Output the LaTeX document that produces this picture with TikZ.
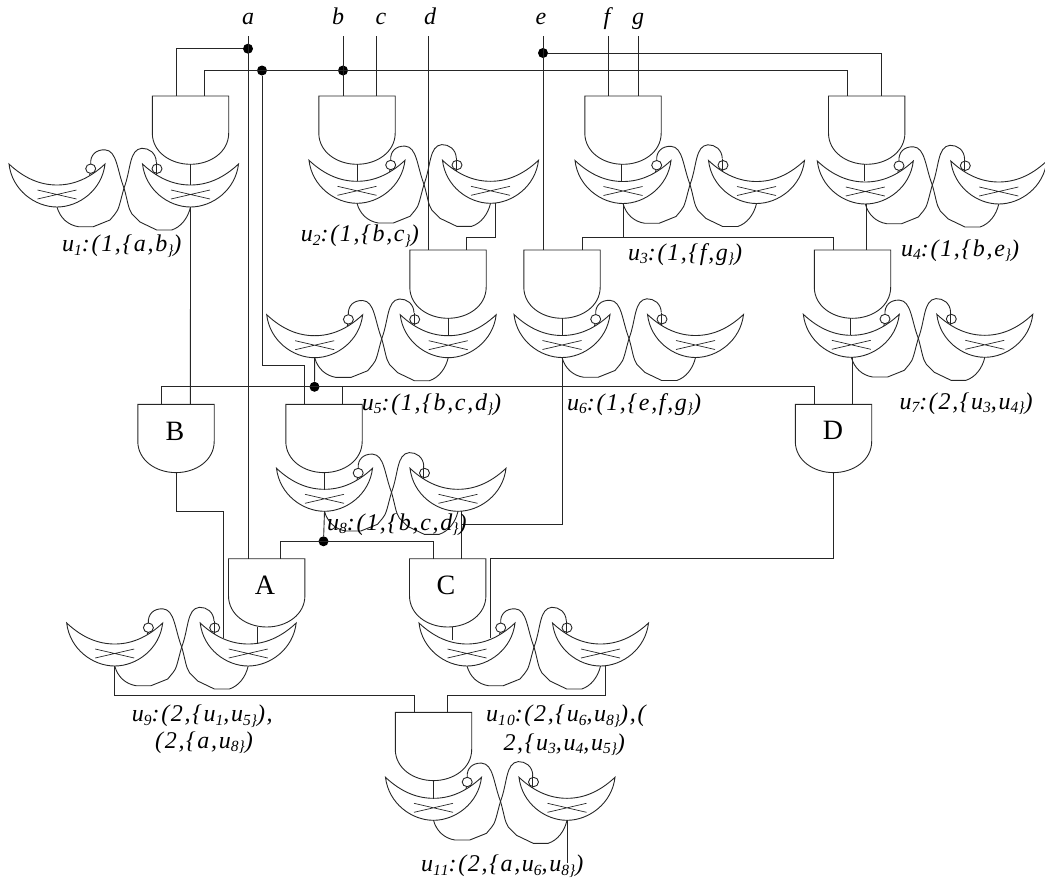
\documentclass[tikz,border=0pt]{standalone}
\usepackage{fontspec}
\setmainfont{Liberation Serif}
\newfontfamily\lblfont[LetterSpace=7]{Liberation Serif}
\usetikzlibrary{calc}
\newcommand{\subt}[1]{\raisebox{-3.5pt}{\fontsize{15.5}{15.5}\selectfont #1}}
\tikzset{
  wire/.style={line width=0.9pt,line join=miter,draw=black!85},
  dotnode/.style={circle,fill=black,inner sep=0pt,minimum size=10pt},
  ulabel/.style={font=\lblfont\fontsize{24}{26}\selectfont\itshape,anchor=base west,inner sep=0pt},
  inlabel/.style={font=\fontsize{24}{26}\selectfont\itshape,anchor=base,inner sep=0pt},
  gatelabel/.style={font=\fontsize{28}{30}\selectfont,inner sep=0pt},
  andgate/.pic={
    \draw[wire] (-38.2,37) -- (-38.2,0) -- (38.2,0) -- (38.2,37)
      .. controls (38.2,56) and (20,68.3) .. (0,68.3)
      .. controls (-20,68.3) and (-38.2,56) .. (-38.2,37) -- cycle;
    \coordinate (-bot) at (0,68.3);
  },
  crescent/.pic={
    \draw[wire,line join=miter] (-48,0) .. controls (-32,15) and (-16,21) .. (0,21)
      .. controls (16,21) and (32,15) .. (48,0)
      .. controls (45,26) and (22,43) .. (0,43)
      .. controls (-22,43) and (-45,26) .. (-48,0) -- cycle;
    \draw[wire,line width=0.7pt] (-19.5,26) -- (19.5,35) (-19.5,35) -- (19.5,26);
  },
  latch/.pic={
    \pic at (0,0) {crescent};
    \pic at (133.5,0) {crescent};
    \draw[wire] (33.7,4.7) circle[x radius=5,y radius=4.7];
    \draw[wire] (100,4.7) circle[x radius=5,y radius=4.7];
    \draw[wire] (33,9.4) -- (32.5,11.5);
    \draw[wire] (99.3,10.5) -- (99.3,-2);
    \draw[wire] (33.7,0) .. controls (33,-9) and (39,-14.5) .. (48,-14.2)
      .. controls (60,-13.5) and (60,6) .. (67,24)
      .. controls (71,38) and (71,44) .. (75,50) -- (83,58) -- (99.7,66) -- (114.7,66)
      .. controls (124,63) and (131,54) .. (133.5,43);
    \draw[wire] (99.3,-2) .. controls (99,-11) and (92,-16) .. (84.7,-15.7)
      .. controls (72,-14.5) and (74,6) .. (67,24)
      .. controls (63,38) and (62,46) .. (58,50) -- (53,56) -- (36.3,62.7) -- (21.3,62.7)
      .. controls (11,61) and (3,54) .. (0,43);
    \coordinate (-tl) at (0,21);
    \coordinate (-tr) at (133.5,21);
    \coordinate (-bl) at (0,43);
    \coordinate (-br) at (133.5,43);
  }
}
\begin{document}
\begin{tikzpicture}[x=1pt,y=-1pt]
\useasboundingbox (0,0) rectangle (1045,879);
% gates
\pic (g1) at (190.5,96) {andgate};
\pic (g2) at (357,96) {andgate};
\pic (g3) at (623,96) {andgate};
\pic (g4) at (866.7,96) {andgate};
\pic (g5) at (448,250) {andgate};
\pic (g6) at (562,250) {andgate};
\pic (g7) at (852.5,250) {andgate};
\pic (g8) at (324,404.3) {andgate};
\pic (gB) at (176,404.3) {andgate};
\pic (gD) at (833.5,404.3) {andgate};
\pic (gA) at (266.7,558.7) {andgate};
\pic (gC) at (447.7,558.7) {andgate};
\pic (g11) at (433.5,712.3) {andgate};
% latches
\pic (l1) at (57,164) {latch};
\pic (l2) at (357,160.3) {latch};
\pic (l3) at (623,160.5) {latch};
\pic (l4) at (865.3,161) {latch};
\pic (l5) at (314.7,314.7) {latch};
\pic (l6) at (562,314.5) {latch};
\pic (l7) at (851.3,314.3) {latch};
\pic (l8) at (324.5,468.3) {latch};
\pic (l9) at (114.7,623) {latch};
\pic (l10) at (467,623) {latch};
\pic (l11) at (433.5,777.3) {latch};
% gate letters
\node[gatelabel] (tB) at (175,431) {B};
\node[gatelabel] (tA) at (265,585) {A};
\node[gatelabel] (tC) at (446,585) {C};
\node[gatelabel] (tD) at (833,430) {D};
% input labels
\node[inlabel] (na) at (248,24) {a};
\node[inlabel] (nb) at (338,24) {b};
\node[inlabel] (nc) at (381,24) {c};
\node[inlabel] (nd) at (430,24) {d};
\node[inlabel] (ne) at (541,24) {e};
\node[inlabel] (nf) at (607,24) {f};
\node[inlabel] (ng) at (638,24) {g};
% terminals
\coordinate (ta) at (248,36);
\coordinate (tb) at (343,36);
\coordinate (tc) at (376,36);
\coordinate (td) at (428.3,36);
\coordinate (te) at (543,36);
\coordinate (tf) at (608,36);
\coordinate (tg) at (638,36);
% junction dots
\node[dotnode] (da) at (248,48.7) {};
\node[dotnode] (db) at (343,70.5) {};
\node[dotnode] (dc) at (262,70.5) {};
\node[dotnode] (de) at (543,53) {};
\node[dotnode] (d5) at (314.5,386.8) {};
\node[dotnode] (d8) at (323.5,541.3) {};
% gate inputs
\coordinate (i1a) at (176,96);
\coordinate (i1b) at (204.5,96);
\coordinate (i2b) at (343,96);
\coordinate (i2c) at (376,96);
\coordinate (i3f) at (608,96);
\coordinate (i3g) at (638,96);
\coordinate (i4b) at (847.7,96);
\coordinate (i4e) at (881,96);
\coordinate (i5d) at (428.3,250);
\coordinate (i5u) at (466.3,250);
\coordinate (i6e) at (543,250);
\coordinate (i6u) at (582,250);
\coordinate (i7u) at (833.3,250);
\coordinate (i7v) at (866.7,250);
\coordinate (iBl) at (161.7,404.3);
\coordinate (iBr) at (190.4,404.3);
\coordinate (i8l) at (304.7,404.3);
\coordinate (i8r) at (342.3,404.3);
\coordinate (iDl) at (814.7,404.3);
\coordinate (iDr) at (852.3,404.3);
\coordinate (iAa) at (248,558.7);
\coordinate (iAr) at (280.7,558.7);
\coordinate (iCl) at (433.7,558.7);
\coordinate (iCr) at (461.7,558.7);
\coordinate (i11l) at (414,712.3);
\coordinate (i11r) at (447.3,712.3);
% routing points
\coordinate (su2) at (495.3,203.3);
\coordinate (su3) at (623,203.5);
\coordinate (su4) at (866.7,204);
\coordinate (su7) at (852.3,357.3);
\coordinate (su8r) at (461.7,511);
\coordinate (su10) at (605.3,665.5);
\coordinate (su9) at (114.7,666);
\coordinate (eB) at (223.7,638.3);
\coordinate (eD) at (490.3,638.3);
\coordinate (e11) at (567,863);
% top wires
\draw[wire] (ta) -- (iAa);
\draw[wire] (da) -| (i1a);
\draw[wire] (tb) -- (i2b);
\draw[wire] (tc) -- (i2c);
\draw[wire] (td) -- (i5d);
\draw[wire] (te) -- (i6e);
\draw[wire] (tf) -- (i3f);
\draw[wire] (tg) -- (i3g);
\draw[wire] (i1b) |- (dc.center) -- (db.center) -| (i4b);
\draw[wire] (de) -| (i4e);
% stems from the AND gates into the latches
\draw[wire] (g1-bot) -- (g1-bot |- l1-tr);
\draw[wire] (g2-bot) -- (g2-bot |- l2-tl);
\draw[wire] (g3-bot) ++(-1.5,0) -- ++(0,17);
\draw[wire] (g4-bot) ++(-2,0) -- ++(0,17);
\draw[wire] (g5-bot) -- (g5-bot |- l5-tr);
\draw[wire] (g6-bot) -- (g6-bot |- l6-tl);
\draw[wire] (g7-bot) ++(-2.5,0) -- ++(0,17);
\draw[wire] (g8-bot) -- (g8-bot |- l8-tl);
\draw[wire] (g11-bot) -- (g11-bot |- l11-tl);
\draw[wire] (gA-bot) ++(-9.7,0) -- ++(0,16.5);
\draw[wire] (gC-bot) ++(4.3,0) -- ++(0,13);
% latch outputs
\draw[wire] (l1-br) -- (iBr);
\draw[wire] (su2) -- ($(su2)+(0,34)$) -| (i5u);
\draw[wire] (su3) -- ($(su3)+(0,33.8)$);
\draw[wire] (i6u) |- ($(su3)+(0,33.8)$) -| (i7u);
\draw[wire] (su4) -- (i7v);
\draw[wire] (l5-bl) -- (d5);
\draw[wire] (iBl) |- (iDl |- d5) -- (iDl);
\draw[wire] (su7) -- (iDr);
\draw[wire] (dc) -- ($(dc |- i8l)+(0,-38.7)$) -| (i8l);
\draw[wire] (d5.center -| i8r) -- (i8r);
\draw[wire] (l8-bl) -- (d8);
\draw[wire] (iAr) |- (d8.center) -| (iCl);
\draw[wire] (su8r) -- (iCr);
\draw[wire] (l6-bl) |- (iCr |- 0,524);
\draw[wire] (gB-bot) |- ($(eB |- 0,511.3)$) -- (eB);
\draw[wire] (gD-bot) |- ($(eD |- iCl)$) -- (eD);
\draw[wire] (su9) |- ($(i11l |- 0,695.7)$) -- (i11l);
\draw[wire] (su10) |- ($(i11r |- 0,695.7)$) -- (i11r);
\draw[wire] (l11-br) -- (e11);
% labels
\node[ulabel] (lu1) at (62,251.7) {u\subt{1}:(1,\{a,b\subt{\}})};
\node[ulabel] (lu2) at (300.7,241.7) {u\subt{2}:(1,\{b,c\subt{\}})};
\node[ulabel] (lu3) at (628,260) {u\subt{3}:(1,\{f,g\subt{\}})};
\node[ulabel] (lu4) at (901,256) {u\subt{4}:(1,\{b,e\subt{\}})};
\node[ulabel] (lu5) at (361.7,410) {u\subt{5}:(1,\{b,c,d\subt{\}})};
\node[ulabel] (lu6) at (567,410) {u\subt{6}:(1,\{e,f,g\subt{\}})};
\node[ulabel] (lu7) at (899.3,409.3) {u\subt{7}:(2,\{u\subt{3},u\subt{4}\subt{\}})};
\node[ulabel] (lu8) at (327,530) {u\subt{8}:(1,\{b,c,d\subt{\}})};
\node[ulabel] (lu9a) at (131.7,721.7) {u\subt{9}:(2,\{u\subt{1},u\subt{5}\subt{\}}),};
\node[ulabel] (lu9b) at (155,748) {(2,\{a,u\subt{8}\subt{\}})};
\node[ulabel] (lu10a) at (486,721.7) {u\subt{10}:(2,\{u\subt{6},u\subt{8}\subt{\}}),(};
\node[ulabel] (lu10b) at (503.3,750) {2,\{u\subt{3},u\subt{4},u\subt{5}\subt{\}})};
\node[ulabel] (lu11) at (421,871.7) {u\subt{11}:(2,\{a,u\subt{6},u\subt{8}\subt{\}})};
\end{tikzpicture}
\end{document}
